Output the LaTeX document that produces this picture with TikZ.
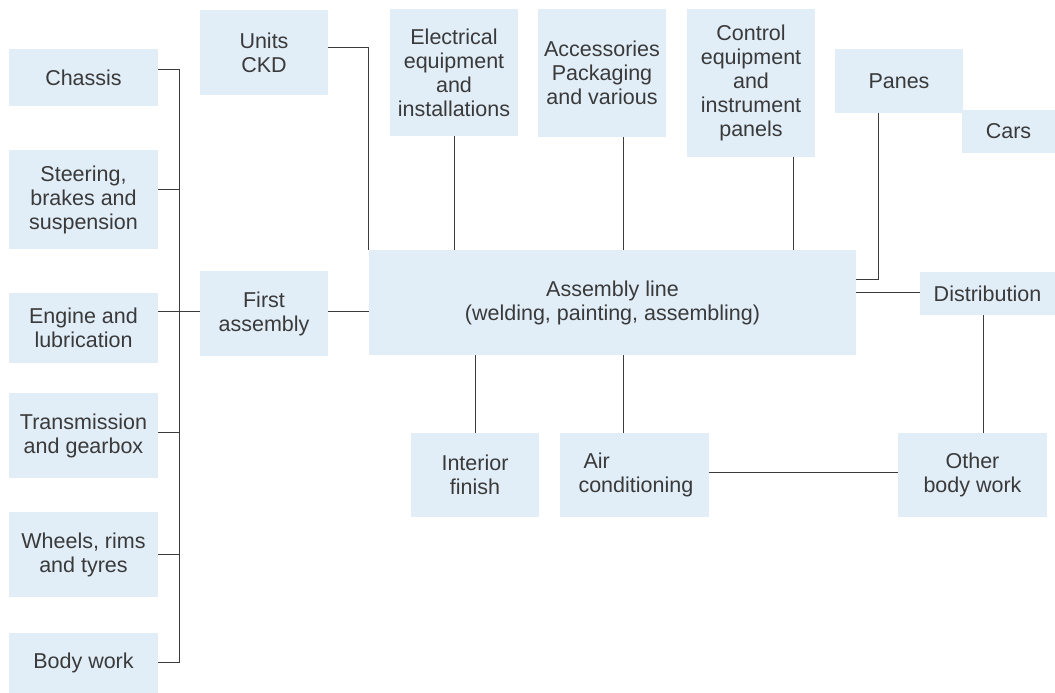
\documentclass[tikz,border=0pt]{standalone}
\usepackage{fontspec}
\setmainfont{Liberation Sans}
\definecolor{boxblue}{HTML}{E1EDF7}
\definecolor{inkgray}{HTML}{3A3A3A}
\definecolor{wiregray}{HTML}{3C3C3C}
\begin{document}
\begin{tikzpicture}[x=1pt,y=-1pt,
  box/.style={fill=boxblue, draw=none, inner sep=0pt, align=center,
    text=inkgray, font=\fontsize{21.5}{24}\selectfont},
  wire/.style={draw=wiregray, line width=1pt}]
\useasboundingbox (0,0) rectangle (1055,693);

% supplier groups on the left
\node[box, minimum width=149pt, minimum height=57pt] (chassis) at (83.5,77.5) {Chassis};
\node[box, minimum width=149pt, minimum height=99pt] (steering) at (83.5,199.5) {Steering,\\brakes and\\suspension};
\node[box, minimum width=149pt, minimum height=70pt] (engine) at (83.5,328) {Engine and\\lubrication};
\node[box, minimum width=149pt, minimum height=85pt] (trans) at (83.5,435.5) {Transmission\\and gearbox};
\node[box, minimum width=149pt, minimum height=85pt] (wheels) at (83.5,554.5) {Wheels, rims\\and tyres};
\node[box, minimum width=149pt, minimum height=60pt] (body) at (83.5,663) {Body work};

% second column
\node[box, minimum width=128pt, minimum height=85pt] (units) at (264,52.5) {Units\\CKD};
\node[box, minimum width=128pt, minimum height=85pt] (first) at (264,313.5) {First\\assembly};

% top row
\node[box, minimum width=128pt, minimum height=127pt] (elec) at (454,72.5) {Electrical\\equipment\\and\\installations};
\node[box, minimum width=128pt, minimum height=128pt] (acc) at (602,73) {Accessories\\Packaging\\and various};
\node[box, minimum width=128pt, minimum height=148pt] (ctrl) at (751,83) {Control\\equipment\\and\\instrument\\panels};
\node[box, minimum width=128pt, minimum height=64pt] (panes) at (899,81) {Panes};
\node[box, minimum width=93pt, minimum height=43pt] (cars) at (1008.5,131.5) {Cars};

% centre and right
\node[box, minimum width=487pt, minimum height=105pt] (line) at (612.5,302.5) {Assembly line\\(welding, painting, assembling)};
\node[box, minimum width=135pt, minimum height=43pt] (distrib) at (987.5,293.5) {Distribution};

% bottom row
\node[box, minimum width=128pt, minimum height=84pt] (interior) at (475,475) {Interior\\finish};
\node[box, minimum width=149pt, minimum height=84pt, align=left, text width=112pt] (air) at (634.5,475) {\hspace*{5pt}Air\\conditioning};
\node[box, minimum width=149pt, minimum height=84pt] (other) at (972.5,475) {Other\\body work};

% attachment points that sit off the box centres
\coordinate (busTop) at (179,70);
\coordinate (busBot) at (179,662);
\coordinate (accFoot) at ([xshift=21pt]acc.south);
\coordinate (ctrlFoot) at ([xshift=42pt]ctrl.south);
\coordinate (airHead) at ([xshift=-11.5pt]air.north);
\coordinate (distFoot) at ([xshift=-4pt]distrib.south);

% collecting bus of the left column
\draw[wire] ([yshift=7.5pt]chassis.east) -- (busTop) -- (busBot) -- ([yshift=1pt]body.east);
\draw[wire] ([yshift=10.5pt]steering.east) -- ++(21pt,0);
\draw[wire] ([yshift=3.5pt]trans.east) -- ++(21pt,0);
\draw[wire] ([yshift=0.5pt]wheels.east) -- ++(21pt,0);
\draw[wire] ([yshift=17pt]engine.east) -- ([yshift=2.5pt]first.west);
\draw[wire] ([yshift=2.5pt]first.east) -- ++(41pt,0);

% feeds into the assembly line
\draw[wire] ([yshift=4.5pt]units.east) -| (line.north west);
\draw[wire] (elec.south) -- (elec.south |- line.north);
\draw[wire] (accFoot) -- (accFoot |- line.north);
\draw[wire] (ctrlFoot) -- (ctrlFoot |- line.north);
\draw[wire] ([xshift=-21pt]panes.south) |- ([yshift=23.5pt]line.east);
\draw[wire] (interior.north) -- (interior.north |- line.south);
\draw[wire] (airHead) -- (airHead |- line.south);

% outputs
\draw[wire] ([yshift=10.5pt]line.east) -- ([yshift=1.5pt]distrib.west);
\draw[wire] (distFoot) -- (distFoot |- other.north);
\draw[wire] ([yshift=3pt]air.east) -- ([yshift=3pt]other.west);
\end{tikzpicture}
\end{document}
